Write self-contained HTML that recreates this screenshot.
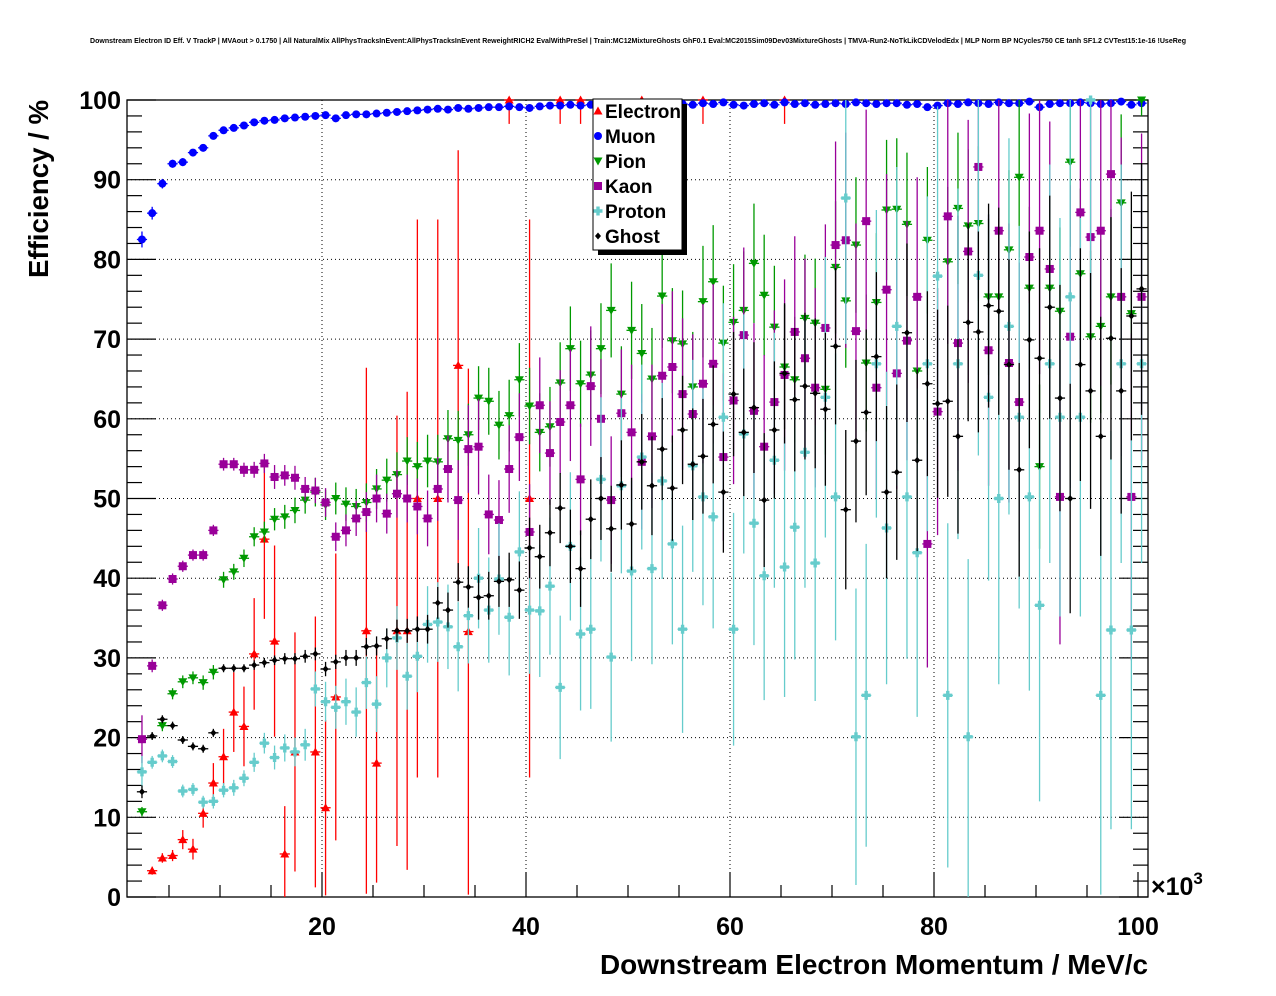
<!DOCTYPE html>
<html><head><meta charset="utf-8"><style>
html,body{margin:0;padding:0;background:#fff;}
svg{display:block;font-family:"Liberation Sans",sans-serif;}
</style></head><body>
<svg id="chart" width="1276" height="996" viewBox="0 0 1276 996" xmlns="http://www.w3.org/2000/svg">
<rect x="0" y="0" width="1276" height="996" fill="#fff"/>
<text x="90" y="43" font-size="7.2" font-weight="bold" textLength="1096" lengthAdjust="spacingAndGlyphs">Downstream Electron ID Eff. V TrackP | MVAout &gt; 0.1750 | All NaturalMix AllPhysTracksInEvent:AllPhysTracksInEvent ReweightRICH2 EvalWithPreSel | Train:MC12MixtureGhosts GhF0.1 Eval:MC2015Sim09Dev03MixtureGhosts | TMVA-Run2-NoTkLikCDVelodEdx | MLP Norm BP NCycles750 CE tanh SF1.2 CVTest15:1e-16 !UseReg</text>
<g id="grid"></g>
<g id="axes"></g>
<g id="series"></g>
<text x="1148" y="974" font-size="27.5" font-weight="bold" text-anchor="end" textLength="548" lengthAdjust="spacingAndGlyphs">Downstream Electron Momentum / MeV/c</text>
<text transform="translate(48,100) rotate(-90)" font-size="27.5" font-weight="bold" text-anchor="end" textLength="178" lengthAdjust="spacingAndGlyphs">Efficiency / %</text>
<text x="1151" y="895" font-size="25" font-weight="bold">×10<tspan font-size="17" dy="-11">3</tspan></text>
<g id="legend"></g>
</svg>
<script>
// ---- data (bins 2..100, GeV) ----
const binStart = 2;
const xTicks = [20, 40, 60, 80, 100];
const yTicks = [0, 10, 20, 30, 40, 50, 60, 70, 80, 90, 100];
const muonVals = [82.5,85.8,89.5,92,92.2,93.4,94,95.5,96.2,96.5,96.8,97.2,97.4,97.5,97.7,97.8,97.9,98,98.1,97.7,98.1,98.2,98.2,98.3,98.4,98.5,98.6,98.7,98.8,98.9,98.8,99,98.9,99,99.1,99.1,99.2,99.1,99,99.2,99.3,99.3,99.4,99.3,99.4,99.5,99.4,99.5,99.4,99.5,99.6,99.5,99.6,99.5,99.4,99.6,99.5,99.7,99.4,99.3,99.5,99.6,99.4,99.7,99.5,99.6,99.4,99.5,99.6,99.5,99.7,99.6,99.5,99.6,99.6,99.4,99.5,99.1,99.3,99.6,99.5,99.7,99.6,99.5,99.7,99.6,99.6,99.8,99.1,99.5,99.6,99.6,99.7,99.6,99.5,99.6,99.8,99.4,99.6];
const muonErr = [1,0.8,0.6,0.5,0.5,0.4,0.4,0.4,0.3,0.3,0.3,0.3,0.3,0.3,0.3,0.3,0.3,0.3,0.3,0.3];
const pionVals = [10.7,null,21.5,25.5,27,27.5,26.9,28.2,39.8,40.8,42.5,45.2,45.8,47.4,47.7,48.5,49.8,50.8,49.2,50,49.3,49,49.5,51.2,52.3,53,54.7,54,54.7,54.6,57.5,57.3,58,62.6,62.2,59.2,60.4,64.9,61.6,58.3,59,64.5,68.8,64.4,65.5,68.8,73.6,63.1,71.1,68.2,65,75.4,69.8,69.4,64,74.7,77.2,69.5,72.1,73.6,79.5,75.5,71.5,66.5,64.9,72.6,72,63.7,79,74.8,81.8,67,74.6,86.2,86.3,84.4,66,82.4,null,79.7,86.4,84.2,84.5,75.3,75.3,81.2,90.3,76.4,54,76.4,73.5,92.2,78.2,70.3,71.6,75.3,87.1,73.2,100];
const pionErr = [0.6,0,0.7,0.7,0.8,0.8,0.9,0.9,1,1,1.1,1.2,1.3,1.4,1.5,1.6,1.7,1.8,1.9,2,2.1,2.2,2.4,2.5,2.7,2.8,3,3.1,3.3,3.4,3.6,3.7,3.9,4,4.2,4.3,4.5,4.6,4.8,4.9,5,5.1,5.3,5.4,5.6,5.7,5.9,6,6.1,6.2,6.4,6.5,6.6,6.7,6.9,7,7.1,7.2,7.3,7.4,7.5,7.6,7.7,7.8,7.9,8,8.1,8.2,8.3,8.4,8.5,8.6,8.7,8.8,8.9,9,9.1,9.2,9.3,9.4,9.5,9.6,9.7,9.8,9.9,10,10.1,10.2,10.3,10.4,10.5,10.6,10.7,10.8,10.9,11,11.1,11.2,2];
const kaonVals = [19.8,29,36.6,39.9,41.5,42.9,42.9,46,54.3,54.3,53.6,53.6,54.4,52.7,52.9,52.6,51.2,51,49.5,45.2,46,47.5,48.3,50,48.1,50.6,50,49,47.5,51.2,53.7,49.8,56.2,56.5,48,47.3,53.7,57.7,45.8,61.7,55.7,59.6,61.7,52.4,64.1,60,49.8,60.7,58.3,54.6,57.8,65.4,66.5,63.1,60.6,64.4,66.9,55.2,62.3,70.5,61,56.5,62.1,65.5,70.9,67.6,63.9,71.4,81.8,82.4,71,84.8,63.9,76.2,65.7,69.8,75.3,44.3,60.9,85.4,69.5,81,91.6,68.6,83.6,67,62.1,80.3,83.6,78.8,50.2,70.3,85.9,82.8,83.6,90.7,75.3,50.2,75.3];
const kaonErr = [3,0.8,0.7,0.7,0.7,0.7,0.7,0.7,0.8,0.8,0.9,1,1.2,1.5,1.3,1.5,1.5,1.6,1.8,1.8,2,2.2,2.5,3,2.5,3,3,3.5,3.5,4,4.2,5,5.5,6,5,5,5.5,5.5,6,6,6.5,6.5,7,7,7.5,7.5,8,8,8.5,8.5,9,9,9.5,9.5,10,10,10,10.5,10.5,11,11,11.5,11.5,12,12,12.5,12.5,13,13,13.5,13.5,14,14,14.5,14.5,15,15,15.5,15.5,16,16,16.5,16.5,17,17,17.5,17.5,18,18,18.5,18.5,19,19,19.5,19.5,20,20,20.5,20.5];
const protonVals = [15.7,16.9,17.7,17,13.3,13.5,11.9,12,13.4,13.7,14.9,16.9,19.3,17.5,18.7,18.2,19.1,26.1,24.5,23.8,24.5,23.2,26.9,24.2,30,32.5,27.7,30.2,34.2,34.5,33.9,31.4,35.3,40,36,39.9,35.1,43.3,36,35.9,39,26.3,44,33,33.6,52.4,30.1,51.6,40.9,55.2,41.2,52.2,44.3,33.6,54.1,50.2,47.7,60.2,33.6,58.1,46.9,40.3,54.8,41.4,46.4,55.8,41.9,62.7,50.2,87.7,20.1,25.3,66.9,46.3,71.6,50.2,43.2,66.9,77.9,25.3,66.9,20.1,78,62.7,50,71.6,60.2,50.2,36.6,66.9,60.2,75.3,60.2,100,25.3,33.5,66.9,33.5,66.9];
const protonErr = [2,0.8,0.8,0.8,0.8,0.8,0.8,0.9,0.9,1,1,1.2,1.3,1.5,1.7,1.8,2,2.2,2.5,2.7,2.9,3.1,3.3,3.5,3.7,4,4.2,4.5,4.8,5,5.3,5.6,6,6.3,6.6,7,7.3,7.6,8,8.3,8.6,9,9.3,9.6,10,10.3,10.6,11,11.3,11.6,12,12.3,12.6,13,13.3,13.6,14,14.3,14.6,15,15.3,15.6,16,16.3,16.6,17,17.3,17.6,18,18.3,18.6,19,19.3,19.6,20,20.3,20.6,21,21.3,21.6,22,22.3,22.6,23,23.3,23.6,24,24.3,24.6,25,25,25,25,25,25,25,25,25,25];
const ghostVals = [13.2,20.2,22.3,21.5,19.7,18.9,18.6,20.6,28.7,28.7,28.7,29.1,29.4,29.7,29.9,29.9,30.2,30.5,28.6,29.5,30,30,31.4,31.5,32.4,33.4,33.4,33.6,33.6,36.9,36,39.5,38.9,37.6,37.8,39.6,39.8,38.5,43.8,42.7,45.7,48.8,44,41.2,47.4,50,46.2,51.7,46.8,54.6,51.6,56.2,51.3,58.6,54.3,55.3,59.3,50.8,63.1,58.3,61.4,49.8,58.6,65.7,62.4,64.1,63.2,61.2,69.1,48.6,57.2,60.8,67.8,50.8,53.3,70.8,54.8,64.4,61.9,62.2,57.8,72.1,70.9,74.2,73.5,66.8,53.6,69.9,67.6,74,62.6,50,66.8,63.5,57.8,70.1,63.5,72.9,76.3];
const ghostErr = [0.8,0.5,0.5,0.5,0.5,0.5,0.5,0.5,0.5,0.5,0.5,0.6,0.6,0.6,0.7,0.7,0.8,0.8,0.9,0.9,1,1,1.1,1.2,1.3,1.4,1.5,1.6,1.8,2,2.2,2.4,2.6,2.8,3,3.2,3.4,3.6,3.8,4,4.2,4.4,4.6,4.8,5,5.2,5.4,5.6,5.8,6,6.2,6.4,6.6,6.8,7,7.2,7.4,7.6,7.8,8,8.2,8.4,8.6,8.8,9,9.2,9.4,9.6,9.8,10,10.2,10.4,10.6,10.8,11,11.2,11.4,11.6,11.8,12,12.2,12.4,12.6,12.8,13,13.2,13.4,13.6,13.8,14,14.2,14.4,14.6,14.8,15,15.2,15.4,15.6,15.8];
const electronBins = [3,4,5,6,7,8,9,10,11,12,13,14,15,16,17,19,20,21,24,25,27,28,29,31,33,34,38,40,43,45,51,57,65];
const electronVals = [3.3,4.9,5.2,7.2,6,10.5,14.3,17.6,23.2,21.4,30.5,44.9,32.1,5.4,18.2,18.2,11.2,25.1,33.4,16.8,33.4,33.4,50,50,66.7,33.3,100,50,100,100,100,100,100];
const electronErr = [0.5,0.6,0.7,1.2,1.3,1.8,2.5,3.5,5,5,7,10,12,6,15,17,11,18,33,15,27,30,35,35,27,33,3,35,3,3,3,3,3];
const legendLabels = ["Electron","Muon","Pion","Kaon","Proton","Ghost"];

// ---- axes ----
const L=127, R=1148, T=100, B=897;
const X0=118, XS=10.2;
function xPx(v){ return X0 + v*XS; }
function yPx(v){ return B - v*(B-T)/100; }
function binCenter(b){ return b + 0.35; }
const NS="http://www.w3.org/2000/svg";
function mk(tag, attrs, parent){
  const e=document.createElementNS(NS,tag);
  for(const k in attrs) e.setAttribute(k, attrs[k]);
  parent.appendChild(e); return e;
}
const grid=document.getElementById('grid');
const axes=document.getElementById('axes');
const ser=document.getElementById('series');
const leg=document.getElementById('legend');

xTicks.forEach(t=>{ if(t<100){ const l=mk('line',{x1:xPx(t),x2:xPx(t),y1:T,y2:B,stroke:'#000','stroke-width':1,'stroke-dasharray':'1,3'},grid);

 }});
yTicks.forEach(t=>{ if(t>0&&t<100){ const l=mk('line',{x1:L,x2:R,y1:yPx(t),y2:yPx(t),stroke:'#000','stroke-width':1,'stroke-dasharray':'1,3'},grid);

 }});

const fr=mk('rect',{x:L,y:T,width:R-L,height:B-T,fill:'none',stroke:'#000','stroke-width':1.3},axes);


for(let v=0; v<=100; v+=2){
  const major = v%10===0;
  const len = major?29:15;
  mk('line',{x1:L,x2:L+len,y1:yPx(v),y2:yPx(v),stroke:'#000','stroke-width':1.2},axes);
  mk('line',{x1:R,x2:R-len,y1:yPx(v),y2:yPx(v),stroke:'#000','stroke-width':1.2},axes);
}
yTicks.forEach(t=>{
  const tx=mk('text',{x:121,y:yPx(t)+9,'font-size':25,'font-weight':'bold','text-anchor':'end'},axes);
  tx.textContent=t;
  
  
});
for(let v=5; v<=100; v+=5){
  const major = v%20===0;
  const len = major?25:12;
  mk('line',{x1:xPx(v),x2:xPx(v),y1:B,y2:B-len,stroke:'#000','stroke-width':1.2},axes);
}
xTicks.forEach(t=>{
  const tx=mk('text',{x:xPx(t),y:935,'font-size':25,'font-weight':'bold','text-anchor':'middle'},axes);
  tx.textContent=t;
  
  
});

function marker(type,color,cx,cy,parent){
  let e;
  if(type==='tri') e=mk('polygon',{points:`${cx-4.5},${cy+3.5} ${cx+4.5},${cy+3.5} ${cx},${cy-4.5}`,fill:color},parent);
  else if(type==='circ') e=mk('circle',{cx:cx,cy:cy,r:4,fill:color},parent);
  else if(type==='tridown') e=mk('polygon',{points:`${cx-4.5},${cy-3.5} ${cx+4.5},${cy-3.5} ${cx},${cy+4.5}`,fill:color},parent);
  else if(type==='sq') e=mk('rect',{x:cx-4,y:cy-4,width:8,height:8,fill:color},parent);
  else if(type==='cross') e=mk('path',{d:`M${cx-4.5},${cy-1.7}h2.8v-2.8h3.4v2.8h2.8v3.4h-2.8v2.8h-3.4v-2.8h-2.8z`,fill:color},parent);
  else e=mk('path',{d:`M${cx},${cy-3.5}L${cx+3},${cy}L${cx},${cy+3.5}L${cx-3},${cy}z`,fill:color},parent);
  return e;
}
function clampY(v){ return Math.max(0,Math.min(100,v)); }
function drawPoint(g,type,color,bin,val,err){
  const cx=xPx(binCenter(bin)), cy=yPx(val);
  const lo=yPx(clampY(val-err)), hi=yPx(clampY(val+err));
  if(err>0){ const l=mk('line',{x1:cx,x2:cx,y1:lo,y2:hi,stroke:color,'stroke-width':1.3},g);
  
   }
  mk('line',{x1:cx-5.1,x2:cx+5.1,y1:cy,y2:cy,stroke:color,'stroke-width':1.3},g);
  const m=marker(type,color,cx,cy,g);
  
  
}
function drawSeries(name,type,color,vals,errs){
  const g=mk('g',{},ser);
  
  
  vals.forEach((v,i)=>{ if(v===null||v===undefined) return;
    const e = (errs[i]!==undefined)?errs[i]:0.3;
    drawPoint(g,type,color,binStart+i,v,e); });
}
const colors={Electron:'#ff0000',Muon:'#0000ff',Pion:'#009900',Kaon:'#990099',Proton:'#66cccc',Ghost:'#000000'};
(function(){
  const g=mk('g',{},ser);
  
  
  electronBins.forEach((b,i)=>drawPoint(g,'tri',colors.Electron,b,electronVals[i],electronErr[i]));
})();
drawSeries('muon','circ',colors.Muon,muonVals,muonErr);
drawSeries('pion','tridown',colors.Pion,pionVals,pionErr);
drawSeries('kaon','sq',colors.Kaon,kaonVals,kaonErr);
drawSeries('proton','cross',colors.Proton,protonVals,protonErr);
drawSeries('ghost','diam',colors.Ghost,ghostVals,ghostErr);

mk('rect',{x:598,y:104,width:89,height:151,fill:'#000'},leg);
mk('rect',{x:593,y:99,width:89,height:151,fill:'#fff',stroke:'#000','stroke-width':1},leg);
const types=['tri','circ','tridown','sq','cross','diam'];
legendLabels.forEach((lab,i)=>{
  const y=111+i*25;
  marker(types[i],colors[lab],598,y,leg);
  const t=mk('text',{x:605,y:y+7,'font-size':19,'font-weight':'bold'},leg);
  t.textContent=lab;
  
  
});
</script>
</body></html>
